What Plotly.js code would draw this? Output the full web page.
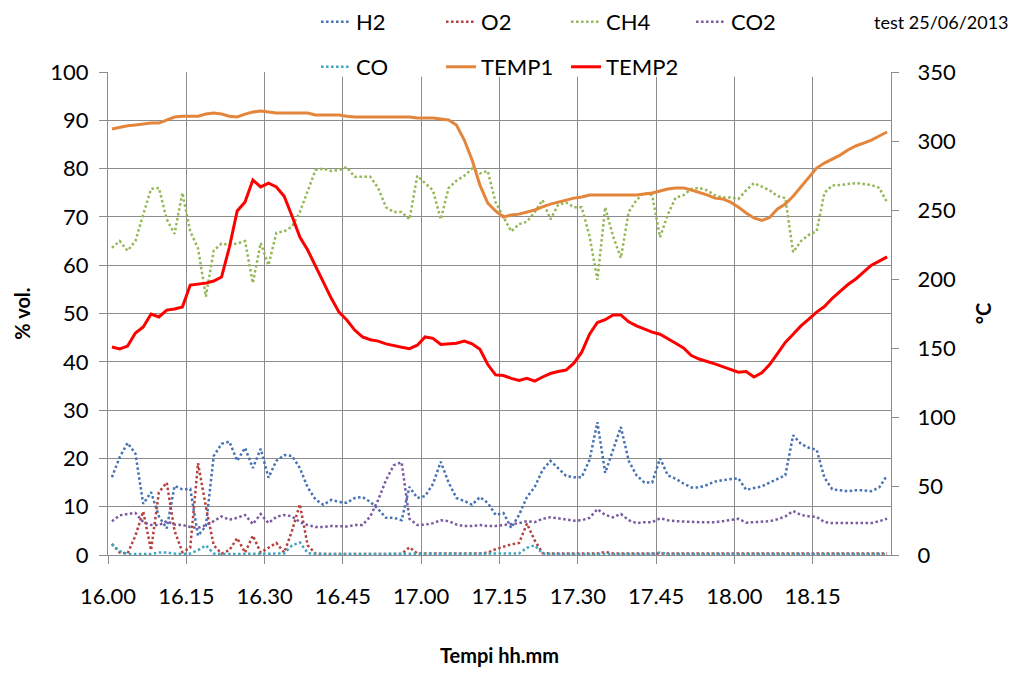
<!DOCTYPE html>
<html><head><meta charset="utf-8">
<script src="https://cdn.plot.ly/plotly-3.0.1.min.js"></script>
<style>html,body{margin:0;padding:0;background:#fff;}#chart{width:1015px;height:673px;}</style>
</head><body><div id="chart"></div>
<script>
// Tick labels of the time axis (one label every 10 samples)
const tickLabels = ['16.00','16.15','16.30','16.45','17.00','17.15','17.30','17.45','18.00','18.15'];

// Gas composition, % vol. (left axis)
const H2 = [16.1,20.3,23.2,21,10.6,13,8,5.5,14.3,13.6,
 13.7,4,6,20.5,23,23.5,19.5,22.2,18,22,
 16,19.5,20.7,20.5,18,14,11.5,10.4,11.4,11,
 10.8,11.8,12,11,9.5,7.7,7.7,7.2,14.1,11.8,
 12.2,14.7,19.3,15,11.8,11.2,10.4,12,10.8,8.3,
 8.7,5.6,8.3,12,14.1,17.6,19.5,18,16.4,16.1,
 16.1,19.7,27.5,17,22,26.5,19.5,16.5,15,15,
 20,16.5,15.8,14.8,14,14,14.5,15.2,15.5,15.7,
 15.9,13.5,13.8,14.2,15,15.8,16.5,24.8,23,22.2,
 21.8,16,13.6,13.4,13.2,13.4,13.4,13.2,14,16.5];
const O2 = [2.3,0.5,0.3,4,9,1,13,15,5,0.6,
 1.5,19,10,2,0.3,1,3.5,0.5,4,0.5,
 1.5,2.5,0.5,5,10.5,2,0.3,0.2,0.2,0.2,
 0.2,0.2,0.2,0.2,0.2,0.2,0.2,0.2,1.6,0.3,
 0.3,0.3,0.3,0.3,0.3,0.3,0.3,0.3,0.5,1.2,
 1.7,2.2,2.5,6.5,3,0.4,0.3,0.3,0.3,0.3,
 0.3,0.4,0.3,0.6,0.3,0.3,0.3,0.3,0.3,0.4,
 0.3,0.3,0.3,0.3,0.3,0.3,0.3,0.3,0.3,0.3,
 0.3,0.3,0.3,0.3,0.3,0.3,0.3,0.4,0.3,0.3,
 0.3,0.3,0.3,0.3,0.3,0.3,0.3,0.4,0.4,0.3];
const CH4 = [63.6,65,63,65,70.5,75.8,76,69.5,66.5,75,
 67,63.5,53.5,63,64.5,64.2,64.5,65,56.3,64.6,
 60,66.7,67,68,71,75.5,79.7,80,79.5,79.7,
 80.3,78.3,78.3,78.3,76,72,71,71,69.5,78.5,
 77,75.5,69.5,76,77.5,78.5,80,79,79.5,73,
 70,67,68.5,69,71,73.5,69.5,72.5,73,72,
 72,66,57,72,66,61.5,71,73.5,75,74.5,
 65.8,70.5,74,74.5,75.8,76,75.5,74.5,74,74,
 73.7,75.5,77,76.2,75.5,74.3,73.9,62.7,65,66.3,
 67,75,76.5,76.6,76.8,77,76.8,76.6,76,73];
const CO2 = [7,8.2,8.5,8.7,6.8,6.2,6.2,7,6.3,6.2,
 5.8,5.6,6.2,7,8,7.3,7.7,8.3,6.4,8.5,
 6.6,7.9,8.3,8,6.8,6.2,5.8,5.8,6,5.9,
 5.9,6.2,6.2,8,11.4,15.5,18.6,19.2,7.5,6.2,
 6.3,6.6,7.2,7,6.3,6,6,6.2,6,6,
 6.2,6.4,6.6,7,6.8,7.5,7.8,7.6,7.3,7.1,
 7.2,7.7,9.5,8.3,7.8,8.5,7.2,6.6,6.8,6.8,
 7.6,7.2,7,6.9,6.8,6.8,6.8,6.8,7,7.2,
 7.5,6.7,6.8,6.8,7,7.4,8,9.1,8.3,8,
 7.9,6.8,6.6,6.6,6.6,6.6,6.6,6.6,7,7.5];
const CO = [2.2,0.8,0.2,0.2,0.2,0.2,0.5,0.5,0.3,0.2,
 0.3,1,2,0.3,0.2,0.2,0.2,0.2,0.2,0.2,
 0.2,0.2,0.3,2,2.6,0.4,0.2,0.2,0.2,0.2,
 0.2,0.2,0.2,0.2,0.2,0.2,0.2,0.2,0.2,0.2,
 0.2,0.2,0.2,0.2,0.2,0.2,0.2,0.2,0.2,0.2,
 0.2,0.2,0.3,1.5,2,0.3,0.2,0.2,0.2,0.2,
 0.2,0.2,0.3,0.2,0.2,0.2,0.2,0.2,0.2,0.2,
 0.5,0.2,0.2,0.2,0.2,0.2,0.2,0.2,0.2,0.2,
 0.2,0.2,0.2,0.2,0.2,0.2,0.2,0.2,0.2,0.2,
 0.2,0.2,0.2,0.2,0.2,0.2,0.2,0.2,0.2,0.2];

// Temperatures, °C (right axis)
const TEMP1 = [308.7,310,311,311.6,312.3,313,313,315,317.4,318,
 318,318,319.5,320.3,319.5,318,317.4,319.5,321,321.7,
 321,320.3,320.3,320.3,320.3,320.3,318.8,318.8,318.8,318.8,
 318,317.4,317.4,317.4,317.4,317.4,317.4,317.4,317.4,316.7,
 316.7,316.7,316,315.2,311.6,300.7,286.2,268,255,249.3,
 244.9,246.4,247,248.5,250,252.2,254.3,255.7,257.2,258.6,
 259.4,260.9,260.9,260.9,260.9,260.9,260.9,260.9,261.6,262.3,
 263.8,265.2,266,266,264.5,263,261,258.6,258,255.7,
 252.2,247.8,244.2,242.4,244.5,250.7,254.3,260,266.7,274,
 280.4,284,287,289.8,293.5,296.4,298.5,300.7,303.6,306.5];
const TEMP2 = [150.7,149.3,151.4,160.9,165.2,174.6,172.5,177.5,178.3,179.7,
 195.6,196.4,197,198.5,201.4,223,249.3,255.8,271.7,266.7,
 269.5,266.7,260,245.6,230.4,221,209.4,197.8,186.2,176,
 170.3,163,158,156,155,153,151.5,150.5,149.5,152,
 158,157,152.5,153,153.5,155,153,149,138,130.5,
 130,128,126.5,128,126,129,131.5,133,134,139,
 147,160,168.5,170.5,174,174,169,166,163.5,161.5,
 160,157,153.5,150,144.5,142,140.5,138.5,136.5,134.5,
 132.5,133,129,132,138,146,154,160,166,171,
 176,180,186,191,196,200,205,210,213,216];

const n = H2.length;
const idx = Array.from({length: n}, (_, i) => i);
const FONT = 'Lato, "Open Sans", "DejaVu Sans", sans-serif';
const GRID = '#8c8c8c';

function dotted(name, y, color, legend) {
  return {type: 'scatter', mode: 'lines', x: idx, y: y, name: name, legend: legend,
    line: {color: color, width: 2.5, dash: '2.5px,2.5px'}, hoverinfo: 'skip'};
}
function solid(name, y, color) {
  return {type: 'scatter', mode: 'lines', x: idx, y: y, name: name, legend: 'legend2', yaxis: 'y2',
    line: {color: color, width: 3}, hoverinfo: 'skip'};
}

const data = [
  dotted('H2', H2, '#4572b4', 'legend'),
  dotted('O2', O2, '#b5403d', 'legend'),
  dotted('CH4', CH4, '#94b856', 'legend'),
  dotted('CO2', CO2, '#7a5a9e', 'legend'),
  dotted('CO', CO, '#3ea5c2', 'legend2'),
  solid('TEMP1', TEMP1, '#e3863c'),
  solid('TEMP2', TEMP2, '#ff0000')
];

const legendCommon = {orientation: 'h', xanchor: 'left', yanchor: 'middle',
  entrywidth: 80, entrywidthmode: 'pixels', font: {family: FONT, size: 22, color: '#000'},
  bgcolor: 'rgba(255,255,255,0)', borderwidth: 0, itemclick: false, itemdoubleclick: false};

const layout = {
  width: 1015, height: 673,
  margin: {l: 108, r: 124, t: 72, b: 118, autoexpand: false},
  paper_bgcolor: '#fff', plot_bgcolor: '#fff',
  font: {family: FONT, size: 22, color: '#000'},
  showlegend: true,
  xaxis: {
    range: [-0.5, n - 0.5],
    tickvals: tickLabels.map((_, k) => k * 10 - 0.5),
    ticktext: tickLabels,
    showgrid: true, gridcolor: GRID, gridwidth: 1,
    showline: true, linecolor: GRID, linewidth: 1,
    ticks: 'outside', ticklen: 8, tickcolor: GRID, tickwidth: 1,
    ticklabelstandoff: 14,
    zeroline: false, fixedrange: true,
    title: {text: '<b>Tempi hh.mm</b>', font: {family: FONT, size: 20}, standoff: 40}
  },
  yaxis: {
    range: [0, 100], dtick: 10, tick0: 0,
    showgrid: true, gridcolor: GRID, gridwidth: 1,
    showline: true, linecolor: GRID, linewidth: 1,
    ticks: 'outside', ticklen: 8, tickcolor: GRID,
    ticklabelstandoff: 6,
    zeroline: false, fixedrange: true,
    title: {text: '<b>% vol.</b>', font: {family: FONT, size: 20}, standoff: 14}
  },
  yaxis2: {
    overlaying: 'y', side: 'right',
    range: [0, 350], dtick: 50, tick0: 0,
    showgrid: false, zeroline: false,
    showline: true, linecolor: GRID, linewidth: 1,
    ticks: 'outside', ticklen: 7, tickcolor: GRID,
    ticklabelstandoff: 14, fixedrange: true,
    title: {text: '<b>°C</b>', font: {family: FONT, size: 20}, standoff: 22}
  },
  legend: Object.assign({}, legendCommon, {x: 0.2657, y: 1.1035}),
  legend2: Object.assign({}, legendCommon, {x: 0.2657, y: 1.0104}),
  shapes: [{type: 'rect', xref: 'paper', yref: 'paper', x0: 0.268, x1: 0.9055, y0: 0.99, y1: 1.01,
    fillcolor: '#fff', line: {width: 0}, layer: 'above'}],
  annotations: [{text: 'test 25/06/2013', xref: 'paper', yref: 'paper', x: 1.065, y: 1.1035,
    xanchor: 'center', yanchor: 'middle', showarrow: false, font: {family: FONT, size: 18, color: '#000'}}]
};

Plotly.newPlot('chart', data, layout, {staticPlot: true, displayModeBar: false});
</script>
</body></html>
